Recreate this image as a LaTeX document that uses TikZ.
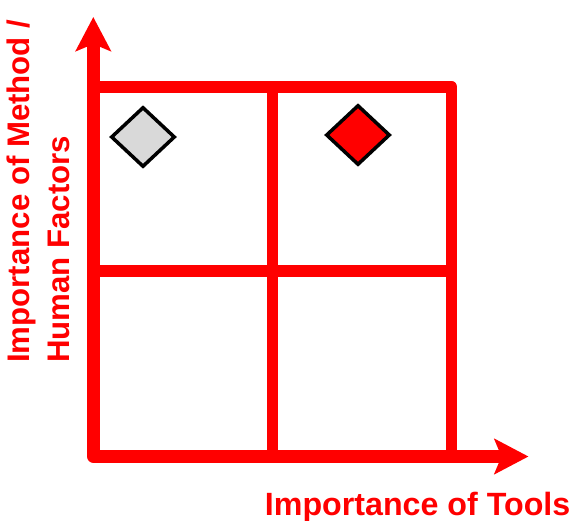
\documentclass[tikz,border=0pt]{standalone}
\usepackage{fontspec}
\setmainfont{Liberation Sans}
\usetikzlibrary{arrows.meta,shapes.geometric}
\definecolor{axisred}{RGB}{255,0,0}
\definecolor{markgray}{RGB}{217,217,217}
\begin{document}
\begin{tikzpicture}[x=1pt,y=-1pt,
  axis/.style={draw=axisred, line width=12.5pt, line join=round,
    {Stealth[length=34pt,width=35pt,inset=7pt,fill=axisred]}-{Stealth[length=34pt,width=35pt,inset=7pt,fill=axisred]}},
  grid/.style={draw=axisred, line width=11.5pt, line join=round},
  marker/.style={diamond, draw=black, line width=3.5pt, inner sep=0pt,
    minimum width=64pt, minimum height=60pt},
  axislabel/.style={text=axisred, inner sep=0pt}]
  \useasboundingbox (0,0) rectangle (572,521);
  % frame points
  \coordinate (origin) at (93.3,456.5);
  \coordinate (ytip) at (93.3,17);
  \coordinate (xtip) at (528.5,456.5);
  \coordinate (tl) at (93.3,87);
  \coordinate (tr) at (451.7,87);
  \coordinate (br) at (451.7,456.5);
  \coordinate (ml) at (93.3,271);
  \coordinate (mr) at (451.7,271);
  \coordinate (mt) at (272.5,87);
  \coordinate (mb) at (272.5,456.5);
  % quadrant grid
  \draw[grid] (tl) -- (tr) -- (br);
  \draw[grid] (ml) -- (mr);
  \draw[grid] (mt) -- (mb);
  % axes
  \draw[axis] (ytip) -- (origin) -- (xtip);
  % markers
  \node[marker, fill=markgray] (low) at (143,137) {};
  \node[marker, fill=axisred] (high) at (358,135) {};
  % axis titles
  \node[axislabel, anchor=base east, font=\bfseries\fontsize{32.2}{40}\selectfont]
    (xlabel) at (570.5,515) {Importance of Tools};
  \node[axislabel, anchor=base west, rotate=90, font=\bfseries\fontsize{31.2}{40}\selectfont]
    (ylabel1) at (29.5,363) {Importance of Method /};
  \node[axislabel, anchor=base west, rotate=90, font=\bfseries\fontsize{31.2}{40}\selectfont]
    (ylabel2) at (69.5,363) {Human Factors};
\end{tikzpicture}
\end{document}
